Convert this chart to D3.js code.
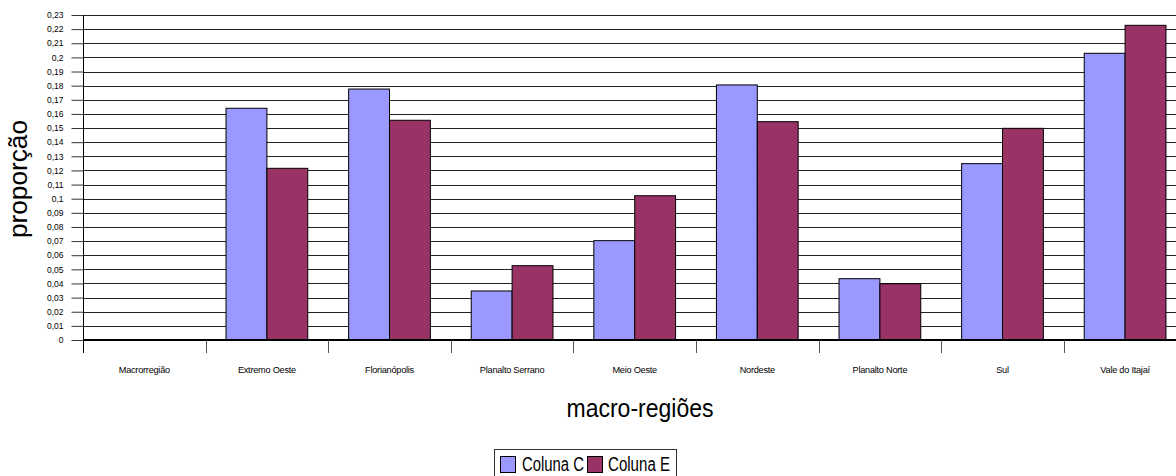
<!DOCTYPE html>
<html>
<head>
<meta charset="utf-8">
<script src="https://cdn.jsdelivr.net/npm/d3@7"></script>
<style>
html,body{margin:0;padding:0;background:#fff;overflow:hidden;}
text{font-family:"Liberation Sans",Arial,sans-serif;fill:#000;}
</style>
</head>
<body>
<svg id="chart" width="1176" height="476"></svg>
<script>
const categories = ["Macrorregião","Extremo Oeste","Florianópolis","Planalto Serrano","Meio Oeste","Nordeste","Planalto Norte","Sul","Vale do Itajaí"];
const colunaC = [0, 0.164, 0.1776, 0.0347, 0.0703, 0.1805, 0.0434, 0.1248, 0.2029];
const colunaE = [0, 0.1215, 0.1555, 0.0526, 0.1021, 0.1545, 0.0398, 0.1498, 0.2227];
const seriesNames = ["Coluna C","Coluna E"];
const seriesColors = ["#9999FF","#993366"];
const yTicks = d3.range(0, 24).map(i => i / 100);
const yTickLabels = yTicks.map(v => String(+v.toFixed(2)).replace(".", ","));

const svg = d3.select("#chart");
const mLeft = 83, mTop = 15, mBottom = 340, step = 122.6;
const x = d3.scaleBand().domain(categories).range([mLeft, mLeft + step * categories.length]).padding(0);
const xs = d3.scaleBand().domain(seriesNames).range([0, x.bandwidth()]).paddingInner(0).paddingOuter(0.5);
const y = d3.scaleLinear().domain([0, 0.23]).range([mBottom, mTop]);

// gridlines
svg.append("g").selectAll("line").data(yTicks.slice(1)).join("line")
  .attr("x1", mLeft).attr("x2", 1176)
  .attr("y1", d => Math.round(y(d)) + 0.5).attr("y2", d => Math.round(y(d)) + 0.5)
  .attr("stroke", "#222").attr("stroke-width", 1);

// y axis
const yAxis = d3.axisLeft(y).tickValues(yTicks).tickSize(12).tickPadding(8)
  .tickFormat((d, i) => yTickLabels[i]);
const gy = svg.append("g").attr("transform", `translate(${mLeft + 0.5},0)`).call(yAxis);
gy.select(".domain").remove();
gy.selectAll(".tick line").attr("stroke", "#333");
gy.selectAll(".tick text").attr("font-size", "8.5px").attr("font-family", '"Liberation Sans",Arial,sans-serif');
svg.append("line").attr("x1", mLeft + 0.5).attr("x2", mLeft + 0.5).attr("y1", mTop).attr("y2", mBottom + 13).attr("stroke", "#000");

// bars
const rows = categories.map((c, i) => ({c, vals: [colunaC[i], colunaE[i]]}));
const gBars = svg.append("g").selectAll("g").data(rows).join("g")
  .attr("transform", d => `translate(${x(d.c)},0)`);
gBars.selectAll("rect").data(d => d.vals.map((v, j) => ({v, s: seriesNames[j], j})).filter(e => e.v > 0)).join("rect")
  .attr("x", d => xs(d.s)).attr("width", xs.bandwidth())
  .attr("y", d => y(d.v)).attr("height", d => y(0) - y(d.v))
  .attr("fill", d => seriesColors[d.j]).attr("stroke", "#000").attr("stroke-width", 1);

// x axis
svg.append("line").attr("x1", mLeft).attr("x2", 1176).attr("y1", mBottom).attr("y2", mBottom).attr("stroke", "#000").attr("stroke-width", 2);
svg.append("g").selectAll("line").data(d3.range(1, categories.length + 1)).join("line")
  .attr("x1", i => Math.round(x.range()[0] + i * x.step()) + 0.5).attr("x2", i => Math.round(x.range()[0] + i * x.step()) + 0.5)
  .attr("y1", mBottom).attr("y2", mBottom + 13).attr("stroke", "#555");
svg.append("g").selectAll("text").data(categories).join("text")
  .attr("x", d => x(d) + x.bandwidth() / 2).attr("y", 373)
  .attr("text-anchor", "middle").attr("font-size", "9.2px").attr("letter-spacing", "-0.25px").text(d => d);

// axis titles
svg.append("text").attr("transform", "translate(27,179) rotate(-90)")
  .attr("text-anchor", "middle").attr("font-size", "25px")
  .attr("textLength", 118).attr("lengthAdjust", "spacingAndGlyphs").text("proporção");
svg.append("text").attr("x", 640).attr("y", 417).attr("text-anchor", "middle").attr("font-size", "25px")
  .attr("textLength", 147).attr("lengthAdjust", "spacingAndGlyphs").text("macro-regiões");

// legend
const lg = svg.append("g");
lg.append("rect").attr("x", 494.5).attr("y", 449.5).attr("width", 182).attr("height", 32).attr("fill", "#fff").attr("stroke", "#333");
const legItems = [{n: seriesNames[0], c: seriesColors[0], sx: 500.5, tx: 522}, {n: seriesNames[1], c: seriesColors[1], sx: 587.5, tx: 608}];
lg.selectAll("rect.sw").data(legItems).join("rect").attr("class", "sw")
  .attr("x", d => d.sx).attr("y", 456.5).attr("width", 15).attr("height", 16)
  .attr("fill", d => d.c).attr("stroke", "#000");
lg.selectAll("text").data(legItems).join("text")
  .attr("x", d => d.tx).attr("y", 471).attr("font-size", "20px")
  .attr("textLength", 62).attr("lengthAdjust", "spacingAndGlyphs").text(d => d.n);
</script>
</body>
</html>
